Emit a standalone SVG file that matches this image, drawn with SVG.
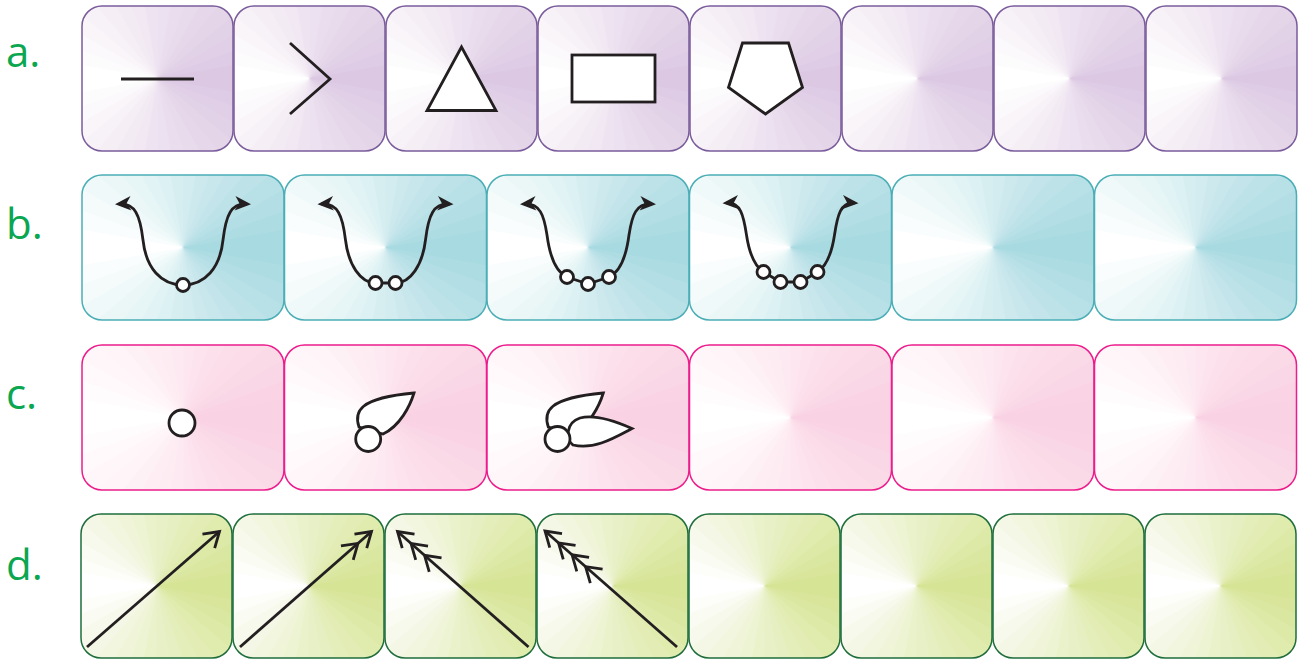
<svg xmlns="http://www.w3.org/2000/svg" xmlns:xlink="http://www.w3.org/1999/xlink" width="1300" height="659" viewBox="0 0 1300 659">
<style>
.lbl{font-family:"Open Sans","Liberation Sans",sans-serif;font-size:42px;fill:#0aa650}
.ta{fill:url(#pa);stroke:#7a5c9c;stroke-width:1.5}
.tb{fill:url(#pb);stroke:#4baeb6;stroke-width:1.5}
.tc{fill:url(#pc);stroke:#ec1c8c;stroke-width:1.5}
.td{fill:url(#pd);stroke:#1e6e3c;stroke-width:1.5}
.s{stroke:#231f20;stroke-width:2.8;fill:none;stroke-linejoin:miter}
.w{fill:#fff}
.cv{marker-start:url(#ah);marker-end:url(#ah)}
</style>
<defs>
<g id="cone" fill="currentColor">
<path d="M0,0L-196.96,-34.73A200,200 0 1 1 -196.96,34.73Z" fill-opacity="0.0588"/>
<path d="M0,0L-187.94,-68.40A200,200 0 1 1 -187.94,68.40Z" fill-opacity="0.0625"/>
<path d="M0,0L-173.21,-100A200,200 0 1 1 -173.21,100Z" fill-opacity="0.0667"/>
<path d="M0,0L-153.21,-128.56A200,200 0 1 1 -153.21,128.56Z" fill-opacity="0.0714"/>
<path d="M0,0L-128.56,-153.21A200,200 0 1 1 -128.56,153.21Z" fill-opacity="0.0769"/>
<path d="M0,0L-100,-173.21A200,200 0 1 1 -100,173.21Z" fill-opacity="0.0833"/>
<path d="M0,0L-68.40,-187.94A200,200 0 1 1 -68.40,187.94Z" fill-opacity="0.0909"/>
<path d="M0,0L-34.73,-196.96A200,200 0 1 1 -34.73,196.96Z" fill-opacity="0.1"/>
<path d="M0,0L0,-200A200,200 0 0 1 0,200Z" fill-opacity="0.1111"/>
<path d="M0,0L34.73,-196.96A200,200 0 0 1 34.73,196.96Z" fill-opacity="0.125"/>
<path d="M0,0L68.40,-187.94A200,200 0 0 1 68.40,187.94Z" fill-opacity="0.1429"/>
<path d="M0,0L100,-173.21A200,200 0 0 1 100,173.21Z" fill-opacity="0.1667"/>
<path d="M0,0L128.56,-153.21A200,200 0 0 1 128.56,153.21Z" fill-opacity="0.2"/>
<path d="M0,0L153.21,-128.56A200,200 0 0 1 153.21,128.56Z" fill-opacity="0.25"/>
<path d="M0,0L173.21,-100A200,200 0 0 1 173.21,100Z" fill-opacity="0.3333"/>
<path d="M0,0L187.94,-68.40A200,200 0 0 1 187.94,68.40Z" fill-opacity="0.5"/>
<path d="M0,0L196.96,-34.73A200,200 0 0 1 196.96,34.73Z" fill-opacity="1"/>
</g>
<pattern id="pa" patternUnits="userSpaceOnUse" x="81.5" y="0" width="152" height="659"><rect width="152" height="659" fill="#fff"/><use href="#cone" x="76" y="78.5" color="#dcc8e3"/></pattern>
<pattern id="pb" patternUnits="userSpaceOnUse" x="81.75" y="0" width="202.5" height="659"><rect width="202.5" height="659" fill="#fff"/><use href="#cone" x="101.25" y="247.5" color="#a8dae2"/></pattern>
<pattern id="pc" patternUnits="userSpaceOnUse" x="81.75" y="0" width="202.5" height="659"><rect width="202.5" height="659" fill="#fff"/><use href="#cone" x="101.25" y="417.5" color="#f9d2e3"/></pattern>
<pattern id="pd" patternUnits="userSpaceOnUse" x="80.5" y="0" width="152" height="659"><rect width="152" height="659" fill="#fff"/><use href="#cone" x="76" y="586" color="#d5e495"/></pattern>
<marker id="ah" markerUnits="userSpaceOnUse" viewBox="-18 -9 22 18" markerWidth="22" markerHeight="18" refX="-4" refY="0" orient="auto-start-reverse" overflow="visible"><path d="M0,0L-16,-7.2L-11.5,0L-16,7.2Z" fill="#231f20"/></marker>
<marker id="c1" markerUnits="userSpaceOnUse" viewBox="-70 -12 76 24" markerWidth="76" markerHeight="24" refX="0" refY="0" orient="auto" overflow="visible"><path class="s" d="M-14.5,-9.3L0,0L-14.5,9.3"/></marker>
<marker id="c2" markerUnits="userSpaceOnUse" viewBox="-70 -12 76 24" markerWidth="76" markerHeight="24" refX="0" refY="0" orient="auto" overflow="visible"><path class="s" d="M-14.5,-9.3L0,0L-14.5,9.3M-32.5,-9.3L-18,0L-32.5,9.3"/></marker>
<marker id="c3" markerUnits="userSpaceOnUse" viewBox="-70 -12 76 24" markerWidth="76" markerHeight="24" refX="0" refY="0" orient="auto" overflow="visible"><path class="s" d="M-14.5,-9.3L0,0L-14.5,9.3M-32.5,-9.3L-18,0L-32.5,9.3M-50.5,-9.3L-36,0L-50.5,9.3"/></marker>
<marker id="c4" markerUnits="userSpaceOnUse" viewBox="-70 -12 76 24" markerWidth="76" markerHeight="24" refX="0" refY="0" orient="auto" overflow="visible"><path class="s" d="M-14.5,-9.3L0,0L-14.5,9.3M-32.5,-9.3L-18,0L-32.5,9.3M-50.5,-9.3L-36,0L-50.5,9.3M-68.5,-9.3L-54,0L-68.5,9.3"/></marker>
</defs>
<rect width="1300" height="659" fill="#fff"/>
<g id="labels">
<text class="lbl" x="6" y="67">a.</text>
<text class="lbl" x="6" y="239">b.</text>
<text class="lbl" x="6" y="409">c.</text>
<text class="lbl" x="6" y="580">d.</text>
</g>
<g id="row-a">
<g id="a1"><rect class="ta" x="82" y="6" width="151" height="145" rx="20"/><line class="s" x1="121" y1="79" x2="194" y2="79"/></g>
<g id="a2"><rect class="ta" x="234" y="6" width="151" height="145" rx="20"/><polyline class="s" points="290,43 330,79 290,114"/></g>
<g id="a3"><rect class="ta" x="386" y="6" width="151" height="145" rx="20"/><polygon class="s w" points="461.5,47 427,110.5 496,110.5"/></g>
<g id="a4"><rect class="ta" x="538" y="6" width="151" height="145" rx="20"/><rect class="s w" x="572" y="55" width="83" height="47"/></g>
<g id="a5"><rect class="ta" x="690" y="6" width="151" height="145" rx="20"/><polygon class="s w" points="742.5,43 788.5,43 802.5,87.5 765.5,114 728.5,87.5"/></g>
<g id="a6"><rect class="ta" x="842" y="6" width="151" height="145" rx="20"/></g>
<g id="a7"><rect class="ta" x="994" y="6" width="151" height="145" rx="20"/></g>
<g id="a8"><rect class="ta" x="1146" y="6" width="151" height="145" rx="20"/></g>
</g>
<g id="row-b">
<g id="b1"><rect class="tb" x="82" y="175" width="202" height="145" rx="20"/>
<g transform="translate(183,0)"><path class="s cv" d="M-64,204C-48,203 -43,215 -40,240C-37,268 -22,285 0,285C22,285 37,268 40,240C43,215 48,203 64,204"/><circle class="s w" cx="0" cy="285" r="6.5"/></g></g>
<g id="b2"><rect class="tb" x="284.5" y="175" width="202" height="145" rx="20"/>
<g transform="translate(385.5,0)"><path class="s cv" d="M-64,204C-48,203 -43,215 -40,240C-37,265 -25,283 -10,283L10,283C25,283 37,265 40,240C43,215 48,203 64,204"/><circle class="s w" cx="-10" cy="283" r="6.5"/><circle class="s w" cx="10" cy="283" r="6.5"/></g></g>
<g id="b3"><rect class="tb" x="487" y="175" width="202" height="145" rx="20"/>
<g transform="translate(588,0)"><path class="s cv" d="M-64,204C-48,203 -44,215 -41,235C-38,258 -32,272 -21,277L0,284L21,277C32,272 38,258 41,235C44,215 48,203 64,204"/><circle class="s w" cx="-21" cy="277" r="6.5"/><circle class="s w" cx="0" cy="284" r="6.5"/><circle class="s w" cx="21" cy="277" r="6.5"/></g></g>
<g id="b4"><rect class="tb" x="689.5" y="175" width="202" height="145" rx="20"/>
<g transform="translate(790.5,0)"><path class="s cv" d="M-64,203C-50,202 -47,215 -44,235C-41,255 -36,266 -27,272L-10,282L10,282L27,272C36,266 41,255 44,235C47,215 50,202 64,203"/><circle class="s w" cx="-27" cy="272" r="6.5"/><circle class="s w" cx="-10" cy="282" r="6.5"/><circle class="s w" cx="10" cy="282" r="6.5"/><circle class="s w" cx="27" cy="272" r="6.5"/></g></g>
<g id="b5"><rect class="tb" x="892" y="175" width="202" height="145" rx="20"/></g>
<g id="b6"><rect class="tb" x="1094.5" y="175" width="202" height="145" rx="20"/></g>
</g>
<g id="row-c">
<g id="c1t"><rect class="tc" x="82" y="345" width="202" height="145" rx="20"/><circle class="s w" cx="182" cy="423" r="13"/></g>
<g id="c2t"><rect class="tc" x="284.5" y="345" width="202" height="145" rx="20"/>
<path class="s w" d="M359,427C354,412 358,398 414,393C410,406 400,426 383,434Z"/><circle class="s w" cx="368.2" cy="439" r="12.5"/></g>
<g id="c3t"><rect class="tc" x="487" y="345" width="202" height="145" rx="20"/>
<path class="s w" d="M548.3,427C543.3,412 547.3,398 603.3,393C599.3,406 589.3,426 572.3,434Z"/>
<path class="s w" d="M573,445C566,440 565,423 580,418C595,414 615,421 632,428.5C614,438 594,450 573,445Z"/>
<circle class="s w" cx="557.5" cy="439" r="12.5"/></g>
<g id="c4t"><rect class="tc" x="689.5" y="345" width="202" height="145" rx="20"/></g>
<g id="c5t"><rect class="tc" x="892" y="345" width="202" height="145" rx="20"/></g>
<g id="c6t"><rect class="tc" x="1094.5" y="345" width="202" height="145" rx="20"/></g>
</g>
<g id="row-d">
<g id="d1"><rect class="td" x="81" y="514" width="151" height="144" rx="20"/><line class="s" x1="87" y1="647" x2="219.5" y2="531.5" marker-end="url(#c1)"/></g>
<g id="d2"><rect class="td" x="233" y="514" width="151" height="144" rx="20"/><line class="s" x1="240" y1="647" x2="371.5" y2="531.5" marker-end="url(#c2)"/></g>
<g id="d3"><rect class="td" x="385" y="514" width="151" height="144" rx="20"/><line class="s" x1="528.5" y1="647" x2="397.5" y2="531.5" marker-end="url(#c3)"/></g>
<g id="d4"><rect class="td" x="537" y="514" width="151" height="144" rx="20"/><line class="s" x1="677" y1="647" x2="545" y2="531" marker-end="url(#c4)"/></g>
<g id="d5"><rect class="td" x="689" y="514" width="151" height="144" rx="20"/></g>
<g id="d6"><rect class="td" x="841" y="514" width="151" height="144" rx="20"/></g>
<g id="d7"><rect class="td" x="993" y="514" width="151" height="144" rx="20"/></g>
<g id="d8"><rect class="td" x="1145" y="514" width="151" height="144" rx="20"/></g>
</g>
</svg>
